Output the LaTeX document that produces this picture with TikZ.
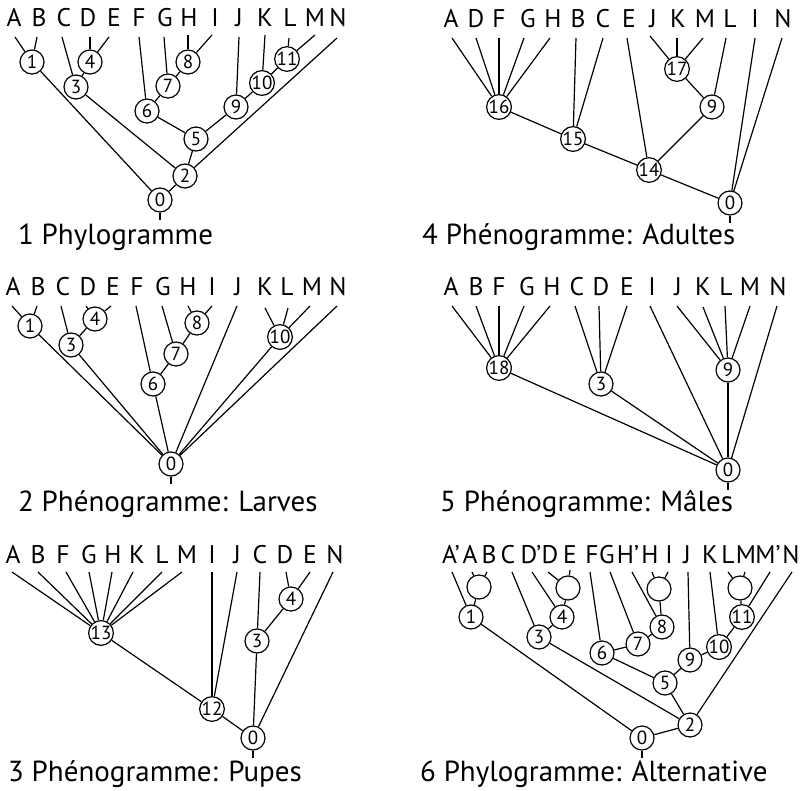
\documentclass[tikz,border=0pt]{standalone}
\usepackage{fontspec}
\setmainfont{PT Sans}
\begin{document}
\begin{tikzpicture}[x=1pt,y=-1pt,
 br/.style={line width=1.2pt},
 nd/.style={circle,draw,line width=1.2pt,minimum size=24pt,inner sep=0pt,font=\fontsize{19}{19}\selectfont},
 lf/.style={anchor=base,inner sep=0pt,font=\fontsize{25.5}{25.5}\selectfont},
 cp/.style={anchor=base west,inner sep=0pt,font=\fontsize{29}{29}\selectfont}]
\useasboundingbox (0,0) rectangle (802,791);

% ---------------- Panel 1 ----------------
\foreach \n/\x in {A/14,B/39,C/64,D/88,E/114,F/139,G/165,H/189,I/215,J/239,K/265,L/290,M/315,N/338}
  \node[lf] (aT\n) at (\x,27) {\n};
\foreach \n/\x/\y in {A/15/37,B/37/37,C/62/37,D/90/37,E/109/37,F/139/37,G/164/37,H/188/35,I/212/35,J/239/37,K/265/35,L/289/38,M/315/35,N/337/38}
  \coordinate (a\n) at (\x,\y);
\node[nd] (a1) at (32,62) {1};
\node[nd] (a4) at (90,62) {4};
\node[nd] (a3) at (76,87) {3};
\node[nd] (a8) at (188,62) {8};
\node[nd] (a7) at (168,86) {7};
\node[nd] (a6) at (147,111) {6};
\node[nd] (a5) at (196,139) {5};
\node[nd] (a9) at (236,107) {9};
\node[nd] (a10) at (262,83) {10};
\node[nd] (a11) at (287,59) {11};
\node[nd] (a2) at (185,176) {2};
\node[nd] (a0) at (160,200) {0};
\coordinate (ar) at (160,220);
\foreach \u/\v in {aA/a1,aB/a1,a1/a0,aC/a3,a3/a4,aD/a4,aE/a4,a3/a2,aF/a6,a6/a7,aG/a7,a7/a8,aH/a8,aI/a8,a6/a5,a5/a9,aJ/a9,a9/a10,aK/a10,a10/a11,aL/a11,aM/a11,a5/a2,aN/a2,a2/a0,a0/ar}
  \draw[br] (\u) -- (\v);
\node[cp] (acap) at (18,245) {1 Phylogramme};

% ---------------- Panel 4 ----------------
\foreach \n/\x in {A/451,D/476,F/499,G/528,H/553,B/578,C/603,E/629,J/653,K/678,M/705,L/730,I/755,N/783}
  \node[lf] (dT\n) at (\x,28) {\n};
\foreach \n/\x/\y in {A/452/38,D/476/38,F/499/38,G/524/38,H/550/38,B/576/38,C/603/38,E/627/38,J/650/36,K/677/38,M/703/38,L/726/38,I/755/38,N/782/38}
  \coordinate (d\n) at (\x,\y);
\node[nd] (d16) at (499,107) {16};
\node[nd] (d15) at (573,139) {15};
\node[nd] (d14) at (649,170) {14};
\node[nd] (d17) at (677,69) {17};
\node[nd] (d9) at (712,107) {9};
\node[nd] (d0) at (730,203) {0};
\coordinate (dr) at (730,223);
\foreach \u/\v in {dA/d16,dD/d16,dF/d16,dG/d16,dH/d16,dB/d15,dC/d15,dE/d14,dJ/d17,dK/d17,dM/d17,dL/d9,dI/d0,dN/d0,d16/d15,d15/d14,d14/d0,d17/d9,d9/d14,d0/dr}
  \draw[br] (\u) -- (\v);
\node[cp] (dcap) at (422,245) {4 Phénogramme: Adultes};

% ---------------- Panel 2 ----------------
\foreach \n/\x in {A/13,B/38,C/63,D/88,E/113,F/137,G/163,H/188,I/212,J/238,K/265,L/287,M/312,N/338}
  \node[lf] (bT\n) at (\x,295) {\n};
\foreach \n/\x/\y in {A/12/306,B/37/306,C/61/306,D/86/306,E/111/306,F/136/306,G/162/306,H/188/306,I/212/306,J/237/306,K/265/308,L/288/308,M/310/306,N/337/306}
  \coordinate (b\n) at (\x,\y);
\node[nd] (b1) at (30,326) {1};
\node[nd] (b4) at (95,319) {4};
\node[nd] (b3) at (71,345) {3};
\node[nd] (b8) at (197,323) {8};
\node[nd] (b7) at (176,354) {7};
\node[nd] (b6) at (153,384) {6};
\node[nd] (b10) at (280,337) {10};
\node[nd] (b0) at (171,464) {0};
\coordinate (brt) at (171,484);
\foreach \u/\v in {bA/b1,bB/b1,bC/b3,bD/b4,bE/b4,b3/b4,bF/b6,bG/b7,b6/b7,b7/b8,bH/b8,bI/b8,bJ/b0,bK/b10,bL/b10,bM/b10,bN/b0,b1/b0,b3/b0,b6/b0,b10/b0,b0/brt}
  \draw[br] (\u) -- (\v);
\node[cp] (bcap) at (18,511) {2 Phénogramme: Larves};

% ---------------- Panel 5 ----------------
\foreach \n/\x in {A/451,B/476,F/499,G/527,H/552,C/577,D/601,E/627,I/652,J/678,K/703,L/726,M/750,N/778}
  \node[lf] (eT\n) at (\x,295) {\n};
\foreach \n/\x/\y in {A/452/306,B/476/306,F/499/306,G/524/306,H/550/306,C/575/306,D/599/306,E/627/306,I/650/306,J/677/306,K/703/307,L/725/306,M/750/306,N/777/306}
  \coordinate (e\n) at (\x,\y);
\node[nd] (e18) at (499,368) {18};
\node[nd] (e3) at (601,384) {3};
\node[nd] (e9) at (728,370) {9};
\node[nd] (e0) at (728,470) {0};
\coordinate (ert) at (728,490);
\foreach \u/\v in {eA/e18,eB/e18,eF/e18,eG/e18,eH/e18,eC/e3,eD/e3,eE/e3,eJ/e9,eK/e9,eL/e9,eM/e9,eI/e0,eN/e0,e18/e0,e3/e0,e9/e0,e0/ert}
  \draw[br] (\u) -- (\v);
\node[cp] (ecap) at (440,511) {5 Phénogramme: Mâles};

% ---------------- Panel 3 ----------------
\foreach \n/\x in {A/13,B/38,F/63,G/89,H/113,K/137,L/162,M/187,I/212,J/237,C/260,D/285,E/310,N/335}
  \node[lf] (cT\n) at (\x,563) {\n};
\foreach \n/\x/\y in {A/12/572,B/38/572,F/66/572,G/89/572,H/112/572,K/133/572,L/162/572,M/182/572,I/212/572,J/237/572,C/260/572,D/286/572,E/310/572,N/333/572}
  \coordinate (c\n) at (\x,\y);
\node[nd] (c13) at (101,633) {13};
\node[nd] (c12) at (212,709) {12};
\node[nd] (c4) at (291,599) {4};
\node[nd] (c3) at (257,641) {3};
\node[nd] (c0) at (253,738) {0};
\coordinate (crt) at (253,758);
\foreach \u/\v in {cA/c13,cB/c13,cF/c13,cG/c13,cH/c13,cK/c13,cL/c13,cM/c13,cI/c12,cJ/c12,c13/c12,c12/c0,cC/c3,cD/c4,cE/c4,c3/c4,c3/c0,cN/c0,c0/crt}
  \draw[br] (\u) -- (\v);
\node[cp] (ccap) at (8,781) {3 Phénogramme: Pupes};

% ---------------- Panel 6 ----------------
\foreach \n/\t/\x in {Ap/A’/451,A/A/470,B/B/489,C/C/508,Dp/D’/531,D/D/550,E/E/570,F/F/592,G/G/607,Hp/H’/628,H/H/650,I/I/669,J/J/687,K/K/710,L/L/728,M/M/746,Mp/M’/768,N/N/791}
  \node[lf] (fT\n) at (\x,563) {\t};
\foreach \n/\x/\y in {Ap/452/572,A/472/572,B/487/572,C/512/572,Dp/532/572,D/548/572,E/570/570,F/590/572,G/610/572,Hp/632/572,H/652/572,I/668/572,J/688/572,K/710/572,L/728/572,M/745/572,Mp/770/572,N/792/572}
  \coordinate (f\n) at (\x,\y);
\node[nd] (fx1) at (479,587) {};
\node[nd] (f1) at (471,617) {1};
\node[nd] (f3) at (539,637) {3};
\node[nd] (f4) at (562,617) {4};
\node[nd] (fx2) at (568,588) {};
\node[nd] (f6) at (602,653) {6};
\node[nd] (f7) at (638,644) {7};
\node[nd] (f8) at (662,627) {8};
\node[nd] (fx3) at (659,589) {};
\node[nd] (f5) at (665,683) {5};
\node[nd] (f9) at (690,660) {9};
\node[nd] (f10) at (719,647) {10};
\node[nd] (f11) at (742,617) {11};
\node[nd] (fx4) at (740,588) {};
\node[nd] (f2) at (690,725) {2};
\node[nd] (f0) at (642,738) {0};
\coordinate (frt) at (642,758);
\foreach \u/\v in {fAp/f1,fA/fx1,fB/fx1,fx1/f1,f1/f0,fC/f3,f3/f4,fDp/f4,fD/fx2,fE/fx2,fx2/f4,f3/f2,fF/f6,f6/f7,fG/f7,f7/f8,fHp/f8,fH/fx3,fI/fx3,fx3/f8,f6/f5,f5/f9,fJ/f9,f9/f10,fK/f10,f10/f11,fL/fx4,fM/fx4,fx4/f11,fMp/f11,f5/f2,fN/f2,f2/f0,f0/frt}
  \draw[br] (\u) -- (\v);
\node[cp] (fcap) at (420,781) {6 Phylogramme: Alternative};
\end{tikzpicture}
\end{document}
